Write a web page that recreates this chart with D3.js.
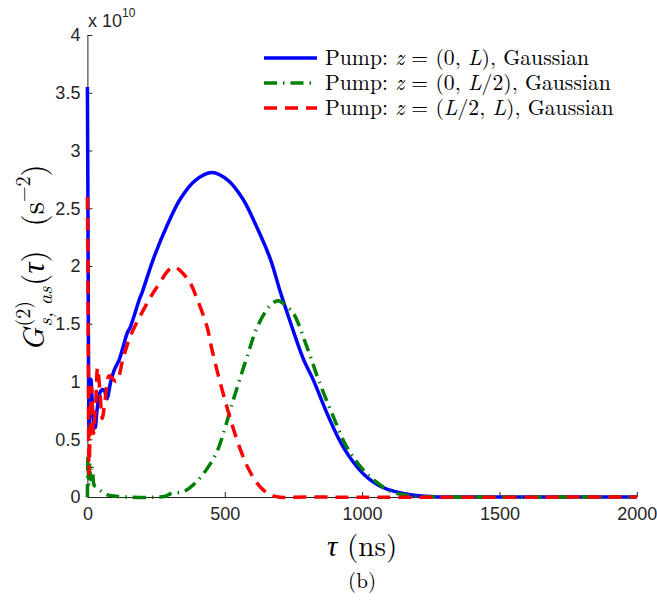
<!DOCTYPE html>
<html>
<head>
<meta charset="utf-8">
<script src="https://cdn.jsdelivr.net/npm/d3@7"></script>
<style>
  body { margin: 0; background: #fff; }
  .tick text { font-family: "Liberation Sans", Arial, sans-serif; font-size: 18px; fill: #262626; }
  .axis path, .axis line { stroke: #262626; }
</style>
</head>
<body>
<div id="chart"></div>
<script>
// values are in units of 1e10 s^-2, tau in ns
const blueTau = [0, 2, 4, 6, 9, 13, 17, 22, 28, 35, 45, 55, 62, 71, 85, 98, 116, 130, 145, 156, 189, 199, 240, 290, 338, 392, 454, 513, 566, 614, 666, 703, 745, 787, 823, 873, 932, 1005, 1078, 1176, 1260, 1400, 2000];
const blueVal = [3.55, 2.5, 1.2, 0.6, 0.9, 1.02, 0.85, 0.65, 0.6, 0.75, 0.9, 0.93, 0.92, 0.85, 1.0, 1.1, 1.19, 1.3, 1.42, 1.47, 1.71, 1.77, 2.06, 2.35, 2.58, 2.74, 2.81, 2.74, 2.58, 2.35, 2.06, 1.77, 1.47, 1.19, 1.01, 0.72, 0.43, 0.2, 0.08, 0.02, 0.003, 0, 0];

const greenTau = [0, 2, 5, 8, 12, 18, 25, 36, 50, 70, 108, 280, 305, 353, 400, 437, 473, 531, 586, 618, 666, 695, 725, 750, 799, 842, 891, 945, 1018, 1103, 1150, 1210, 1400, 2000];
const greenVal = [0, 0.37, 0.1, 0.3, 0.15, 0.25, 0.1, 0.08, 0.05, 0.02, 0.005, 0.005, 0.03, 0.05, 0.14, 0.25, 0.4, 0.84, 1.25, 1.47, 1.66, 1.7, 1.65, 1.59, 1.3, 1.01, 0.72, 0.43, 0.2, 0.05, 0.02, 0.005, 0, 0];

const redTau = [0, 3, 6, 10, 15, 22, 30, 37, 46, 54, 65, 80, 105, 130, 156, 204, 254, 313, 367, 400, 436, 454, 503, 554, 594, 636, 684, 800, 2000];
const redVal = [2.6, 1.5, 0.2, 0.6, 0.95, 0.55, 0.8, 1.12, 0.9, 0.68, 0.85, 1.05, 1.0, 1.2, 1.39, 1.62, 1.82, 1.99, 1.88, 1.71, 1.47, 1.27, 0.82, 0.43, 0.21, 0.07, 0.005, 0, 0];

const xTicks = [0, 500, 1000, 1500, 2000];
const yTicks = [0, 0.5, 1, 1.5, 2, 2.5, 3, 3.5, 4];

const legendLabels = [
  ["Pump: ", "z", " = (0, ", "L", "), Gaussian"],
  ["Pump: ", "z", " = (0, ", "L", "/2), Gaussian"],
  ["Pump: ", "z", " = (", "L", "/2, ", "L", "), Gaussian"]
];

const width = 657, height = 604;
const serif = "'Latin Modern Roman', 'CMU Serif', 'Liberation Serif', serif";

const svg = d3.select("#chart").append("svg")
  .attr("width", width)
  .attr("height", height);

const x = d3.scaleLinear().domain([0, 2000]).range([87.4, 636.8]);
const y = d3.scaleLinear().domain([0, 4]).range([497, 35]);

// axes, ticks pointing inward like matlab
svg.append("g")
  .attr("class", "axis")
  .attr("transform", "translate(0," + y(0) + ")")
  .call(d3.axisBottom(x).tickValues(xTicks).tickSizeInner(-5).tickSizeOuter(0).tickPadding(10).tickFormat(d3.format("d")));

svg.append("g")
  .attr("class", "axis")
  .attr("transform", "translate(" + x(0) + ",0)")
  .call(d3.axisLeft(y).tickValues(yTicks).tickSizeInner(-5).tickSizeOuter(0).tickPadding(7).tickFormat(d3.format("~g")));

svg.selectAll(".axis path").attr("stroke-width", 1);

// exponent label
const expo = svg.append("text")
  .attr("x", 88).attr("y", 27)
  .style("font-family", "'Liberation Sans', Arial, sans-serif")
  .style("font-size", "18px")
  .style("fill", "#262626");
expo.append("tspan").text("x 10");
expo.append("tspan").attr("dy", -10).style("font-size", "12px").text("10");

const series = [
  { tau: blueTau, val: blueVal, color: "#0000ff", dash: null },
  { tau: greenTau, val: greenVal, color: "#008000", dash: "13,6,1.5,6" },
  { tau: redTau, val: redVal, color: "#ff0000", dash: "13,8" }
];

const line = d3.line()
  .x(d => x(d[0]))
  .y(d => y(d[1]))
  .curve(d3.curveCatmullRom.alpha(0.5));

svg.append("g").selectAll("path.content")
  .data(series)
  .enter().append("path")
  .attr("class", "content")
  .attr("d", s => line(s.tau.map((t, i) => [t, s.val[i]])))
  .style("fill", "none")
  .style("stroke", s => s.color)
  .style("stroke-width", "3.5px")
  .style("stroke-dasharray", s => s.dash);

// legend
const legend = svg.append("g");
series.forEach((s, i) => {
  const ly = 58 + i * 25;
  legend.append("line")
    .attr("x1", 264).attr("x2", 317)
    .attr("y1", ly).attr("y2", ly)
    .style("stroke", s.color)
    .style("stroke-width", "3.5px")
    .style("stroke-dasharray", s.dash);
  const t = legend.append("text")
    .attr("x", 325).attr("y", ly + 7)
    .style("font-family", serif)
    .style("font-size", "21.7px")
    .style("fill", "#000");
  legendLabels[i].forEach(part => {
    t.append("tspan")
      .style("font-style", (part === "z" || part === "L") ? "italic" : "normal")
      .text(part);
  });
});

// y label, built piece by piece in a rotated frame
const yl = svg.append("g");
let cx = 0;
function put(str, size, base, italic) {
  const t = yl.append("text")
    .attr("x", cx).attr("y", base)
    .style("font-family", serif)
    .style("font-size", size + "px")
    .style("font-style", italic ? "italic" : "normal")
    .text(str);
  return t.node().getComputedTextLength();
}
cx += put("G", 31, 0, true) + 1;
const supW = put("(2)", 20, -14, false);
const subW = put("s, as", 20, 8, true);
cx += Math.max(supW, subW) + 1;
cx += put("(", 31, 0, false);
cx += put("τ", 31, 0, true);
cx += put(")", 31, 0, false);
cx += 24;
cx += put("(s", 31, 0, false);
cx += put("−2", 20, -14, false);
cx += put(")", 31, 0, false);
yl.attr("transform", "translate(44," + (258 + cx / 2) + ") rotate(-90)");

// x label
const xl = svg.append("text")
  .attr("x", x(1000)).attr("y", 556)
  .attr("text-anchor", "middle")
  .style("font-family", serif)
  .style("font-size", "29px");
xl.append("tspan").style("font-style", "italic").text("τ");
xl.append("tspan").text(" (ns)");

svg.append("text")
  .attr("x", x(1000)).attr("y", 588)
  .attr("text-anchor", "middle")
  .style("font-family", serif)
  .style("font-size", "21px")
  .text("(b)");
</script>
</body>
</html>
